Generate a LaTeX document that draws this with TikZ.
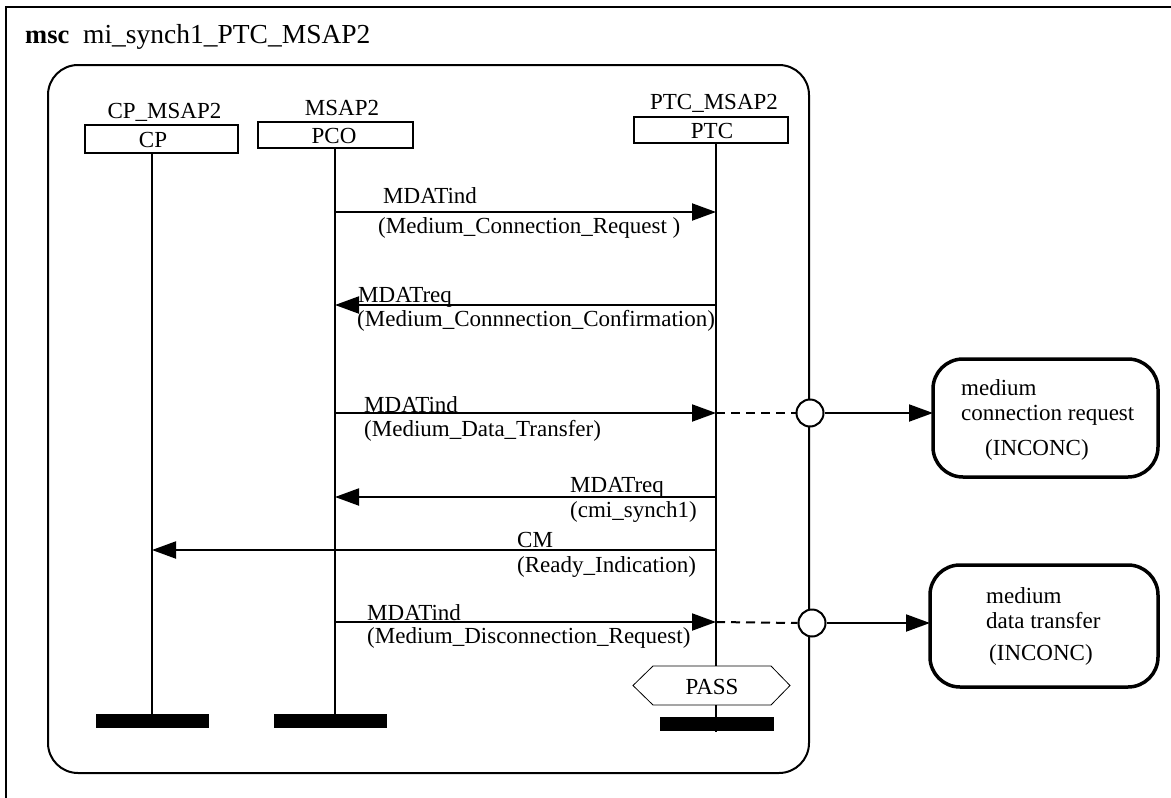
\documentclass[tikz,border=0pt]{standalone}
\usepackage{fontspec}
\setmainfont{Liberation Serif}
\usetikzlibrary{arrows.meta}
\begin{document}
\begin{tikzpicture}[x=1pt,y=-1pt,
  txt/.style={font=\fontsize{23}{27}\selectfont, inner sep=0pt, anchor=base west},
  ctxt/.style={font=\fontsize{23}{27}\selectfont, inner sep=0pt, anchor=base},
  msg/.style={line width=2pt, -{Triangle[length=24pt,width=17pt]}},
  life/.style={line width=2pt},
  inst/.style={draw, line width=2pt, inner sep=0pt},
  endbar/.style={fill=black, draw=none},
  verdict/.style={draw, line width=3.5pt, rounded corners=30pt},
  dashline/.style={line width=2pt, dash pattern=on 9pt off 6pt},
  port/.style={draw, circle, line width=2pt, fill=white, minimum size=27pt, inner sep=0pt},
  ]
\useasboundingbox (0,0) rectangle (1171,798);
% outer frame
\draw[line width=2pt] (6,798) -- (6,7) -- (1171,7);
\node[txt] (kw) at (25,43) {\fontsize{26.5}{30}\selectfont\bfseries msc};
\node[txt] (title) at (83,43) {\fontsize{27.5}{30}\selectfont mi\_synch1\_PTC\_MSAP2};
% inner frame
\draw[line width=2pt, rounded corners=30pt] (48,65) rectangle (809,773);

% instance heads
\node[inst, minimum width=153pt, minimum height=28pt] (cp) at (161.5,139) {};
\node[ctxt] (cpt) at (153,147) {CP};
\node[ctxt] (cpn) at (164.5,118) {CP\_MSAP2};
\node[inst, minimum width=155pt, minimum height=26pt] (pco) at (335.5,135) {};
\node[ctxt] (pcot) at (334,143) {PCO};
\node[ctxt] (pcon) at (342,115) {MSAP2};
\node[inst, minimum width=154pt, minimum height=26pt] (ptc) at (711,130) {};
\node[ctxt] (ptct) at (712,138) {PTC};
\node[ctxt] (ptcn) at (714,109) {PTC\_MSAP2};

% lifelines
\coordinate (cptop) at (152,153);
\coordinate (pcotop) at (335,148);
\coordinate (ptctop) at (716,143);
\coordinate (cpend) at (152,714);
\coordinate (pcoend) at (335,714);
\coordinate (ptcend) at (716,732);
\draw[life] (cptop) -- (cpend);
\draw[life] (pcotop) -- (pcoend);
\draw[life] (ptctop) -- (ptcend);
\fill[endbar] (96,714) rectangle (209,728);
\fill[endbar] (274,714) rectangle (387,728);
\fill[endbar] (660,717) rectangle (774,731);

% PASS condition
\filldraw[fill=white, draw=black, line width=0.8pt] (633,685.5) -- (653,666) -- (771,666) -- (790,685.5) -- (771,705) -- (653,705) -- cycle;
\node[ctxt] (pass) at (712,694) {PASS};
\draw[life] (716,705) -- (716,717);

% message endpoints
\coordinate (p1) at (335,212); \coordinate (t1) at (716,212);
\coordinate (p2) at (335,305); \coordinate (t2) at (716,305);
\coordinate (p3) at (335,413); \coordinate (t3) at (716,413);
\coordinate (p4) at (335,497); \coordinate (t4) at (716,497);
\coordinate (c5) at (152,550); \coordinate (t5) at (716,550);
\coordinate (p6) at (335,622); \coordinate (t6) at (716,622);

\draw[msg] (p1) -- (t1);
\node[txt] (l1a) at (383,203) {MDATind};
\node[txt] (l1b) at (378,233) {(Medium\_Connection\_Request )};

\draw[msg] (t2) -- (p2);
\node[txt] (l2a) at (358,302) {MDATreq};
\node[txt] (l2b) at (357,326) {(Medium\_Connnection\_Confirmation)};

\draw[msg] (p3) -- (t3);
\node[txt] (l3a) at (364,412) {MDATind};
\node[txt] (l3b) at (364,436) {(Medium\_Data\_Transfer)};

\draw[msg] (t4) -- (p4);
\node[txt] (l4a) at (570,492) {MDATreq};
\node[txt] (l4b) at (570,517) {(cmi\_synch1)};

\draw[msg] (t5) -- (c5);
\node[txt] (l5a) at (517,547) {CM};
\node[txt] (l5b) at (517,572) {(Ready\_Indication)};

\draw[msg] (p6) -- (t6);
\node[txt] (l6a) at (367,620) {MDATind};
\node[txt] (l6b) at (367,643) {(Medium\_Disconnection\_Request)};

% ports and verdicts
\node[port] (o1) at (810,413) {};
\node[port] (o2) at (812,623) {};
\draw[dashline] (t3) -- (o1.west);
\draw[dashline] (t6) -- (o2.west);

\draw[verdict] (933,359) rectangle (1158,477);
\coordinate (v1) at (933,413);
\node[txt] (v1a) at (961,395) {medium};
\node[txt] (v1b) at (961,420) {connection request};
\node[txt] (v1c) at (985,455) {(INCONC)};

\draw[verdict] (930,565) rectangle (1158,687);
\coordinate (v2) at (930,623);
\node[txt] (v2a) at (986,603) {medium};
\node[txt] (v2b) at (986,628) {data transfer};
\node[txt] (v2c) at (989,660) {(INCONC)};

\draw[msg] (o1.east) -- (v1);
\draw[msg] (o2.east) -- (v2);
\end{tikzpicture}
\end{document}
